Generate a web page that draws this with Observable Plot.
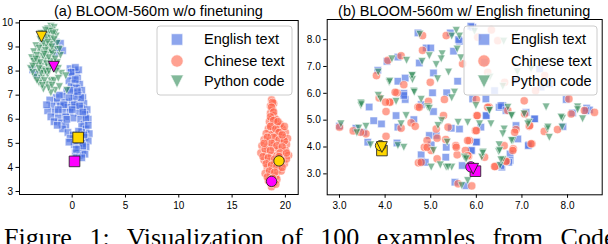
<!DOCTYPE html>
<html>
<head>
<meta charset="utf-8">
<script src="https://cdn.jsdelivr.net/npm/d3@7"></script>
<script src="https://cdn.jsdelivr.net/npm/@observablehq/plot@0.6"></script>
<style>
  html, body { margin: 0; padding: 0; background: #fff; }
  body { width: 608px; height: 244px; overflow: hidden; position: relative;
         font-family: "Liberation Sans", Arial, Helvetica, sans-serif; }
  .panel { position: absolute; top: 0; }
  #overlay { position: absolute; left: 0; top: 0; pointer-events: none; }
  .caption { position: absolute; left: 4px; top: 223px; white-space: nowrap;
             font-family: "Liberation Serif", "Times New Roman", serif; font-size: 26px;
             word-spacing: 11px; color: #000; }
</style>
</head>
<body>
<div id="pa" class="panel" style="left:0"></div>
<div id="pb" class="panel" style="left:304px"></div>
<svg id="overlay" width="608" height="244"></svg>
<div class="caption">Figure 1: Visualization of 100 examples from Code</div>
<script>
// ---------- data ----------
const seriesNames = ["English text", "Chinese text", "Python code"];
const panelTitles = ["(a) BLOOM-560m w/o finetuning", "(b) BLOOM-560m w/ English finetuning"];
const aXTicks = [0, 5, 10, 15, 20];
const aYTicks = [3, 4, 5, 6, 7, 8, 9, 10];
const bXTicks = [3, 4, 5, 6, 7, 8];
const bYTicks = [3, 4, 5, 6, 7, 8];

// panel (a): without finetuning
const aEnglish = [
  [-1.5,9.2],[-1.1,9.15],[-1.3,8.95],[-0.9,8.85],[-1.6,8.75],[-3.7,8.05],[-3.3,7.85],
  [-0.2,8.1],[0.1,8.0],[0.4,7.95],[0.0,7.8],[0.5,7.7],[-0.3,7.6],[0.2,7.5],[0.7,7.45],
  [-0.1,7.35],[0.4,7.3],[0.9,7.2],[-0.5,7.15],[0.1,7.1],[0.6,7.0],[-0.9,6.95],[1.0,6.9],
  [-1.5,6.9],[-2.1,6.8],[-1.4,6.75],[-0.7,6.7],[0.0,6.75],[0.5,6.7],[1.1,6.65],[-1.9,6.55],
  [-1.1,6.55],[-0.4,6.5],[0.3,6.5],[0.9,6.45],[1.4,6.4],[-2.3,6.35],[-1.6,6.3],[-0.9,6.3],
  [-0.2,6.3],[0.6,6.25],[1.2,6.2],[-2.0,6.1],[-1.3,6.05],[-0.6,6.1],[0.1,6.05],[0.8,6.0],
  [1.5,6.0],[-1.7,5.9],[-1.0,5.85],[1.1,5.8],[-0.6,5.75],[0.9,5.7],[1.3,5.6],[-0.9,5.6],
  [-0.4,5.45],[0.9,5.45],[1.6,5.4],[0.1,5.35],[-0.2,5.2],[1.2,5.25],[1.5,5.1],[0.9,5.0],
  [0.2,4.95],[1.3,4.85],[0.6,4.8],[1.0,4.65],[0.3,4.6],[0.7,4.5],[1.2,4.55],[0.4,4.4],
  [0.8,6.9],[0.2,6.95],[-0.3,6.9],[1.3,6.05],[-2.4,6.6],[-1.2,7.0],[0.6,8.05],[0.3,8.15],
  [-0.1,7.95],[0.3,7.65],[-0.2,7.2],[0.5,7.15],[-0.8,6.6],[0.2,6.6],[0.7,6.55],[-1.3,6.4],
  [0.0,6.4],[1.0,6.3],[-0.5,6.0],[-1.4,5.75],[1.5,5.75],[0.6,5.5],[1.1,5.35],[0.5,5.1],
  [1.0,4.9],[0.4,4.75],[0.9,4.4],[-0.3,5.05]
];
const aChinese = [
  [18.7,6.8],[18.9,6.65],[18.6,6.55],[18.8,6.4],[18.6,6.25],[18.9,6.15],[18.7,6.0],[18.5,5.9],
  [19.0,5.85],[18.7,5.75],[19.3,5.7],[19.7,5.6],[18.4,5.6],[18.9,5.55],[19.5,5.5],[20.0,5.45],
  [18.2,5.4],[18.7,5.35],[19.2,5.3],[19.8,5.25],[20.2,5.2],[18.0,5.15],[18.5,5.1],[19.0,5.05],
  [19.6,5.0],[20.1,4.95],[17.8,4.9],[18.3,4.85],[18.9,4.8],[19.4,4.75],[20.0,4.7],[17.7,4.6],
  [18.2,4.55],[18.7,4.5],[19.2,4.5],[19.8,4.45],[20.3,4.5],[18.0,4.3],[18.5,4.25],[19.0,4.2],
  [19.9,4.15],[20.1,4.35],[18.3,4.0],[18.8,3.95],[19.3,3.9],[18.1,3.75],[18.6,3.7],[19.1,3.65],
  [18.4,3.45],[18.9,3.35],[18.7,3.2],[19.2,3.5],[19.6,3.85],[19.5,5.8],[19.9,5.7],[19.1,6.0],
  [18.8,6.7],[18.7,6.5],[18.9,6.3],[18.6,6.1],[18.9,5.95],[18.6,5.7],[19.1,5.6],[19.4,5.45],
  [18.9,5.25],[19.4,5.15],[19.9,5.1],[18.3,5.25],[18.7,5.0],[19.2,4.9],[19.7,4.85],[18.1,4.75],
  [18.6,4.7],[19.5,4.6],[20.1,4.6],[17.9,4.45],[18.4,4.4],[19.0,4.35],[19.6,4.3],[18.2,4.15],
  [18.7,4.1],[19.2,4.05],[19.7,4.0],[18.5,3.85],[19.0,3.8],[18.3,3.6],[18.8,3.55],[19.1,3.3],
  [18.6,3.35],[19.4,4.45],[19.3,5.9],[19.7,5.35],[18.0,5.0]
];
const aPython = [
  [-2.0,9.85],[-1.7,9.8],[-2.3,9.75],[-1.9,9.7],[-2.6,9.55],[-2.2,9.5],[-1.5,9.45],[-3.0,9.3],
  [-2.5,9.25],[-1.9,9.2],[-1.4,9.15],[-3.4,9.05],[-2.8,9.0],[-2.2,8.95],[-1.6,8.9],[-3.6,8.8],
  [-3.0,8.75],[-2.4,8.7],[-1.8,8.65],[-1.1,8.65],[-3.8,8.55],[-3.2,8.5],[-2.6,8.45],[-2.0,8.4],
  [-1.4,8.35],[-3.5,8.25],[-2.9,8.2],[-2.3,8.15],[-3.9,8.1],[-3.2,7.95],[-2.6,7.9],[-1.0,7.9],
  [-3.5,7.75],[-2.9,7.7],[-2.0,7.6],[-1.7,7.6],[-0.6,7.8],[-3.1,7.5],[-2.4,7.45],[-2.7,7.25],
  [-1.6,7.2],[-0.5,7.2],[-1.2,7.35],[-2.0,7.1],[-2.8,8.05],[-2.4,9.0],[-1.8,8.1],[-3.3,8.3],
  [-2.0,8.8],[-1.6,9.6],
  [-2.1,9.65],[-1.8,9.55],[-2.4,9.4],[-2.0,9.35],[-1.7,9.3],[-2.7,9.15],[-2.1,9.1],[-3.1,8.95],
  [-2.5,8.85],[-1.9,8.75],[-3.3,8.65],[-2.7,8.6],[-2.2,8.55],[-1.6,8.5],[-3.6,8.4],[-3.0,8.35],
  [-2.4,8.3],[-2.0,8.2],[-3.7,7.95],[-2.9,7.9],[-2.3,7.85],[-3.3,7.6],[-2.6,7.6],[-2.2,7.3],
  [-1.3,7.7],[-2.5,8.0],[-3.1,8.1],[-2.2,8.0],[-1.3,8.1],[-1.2,8.9],[-2.9,9.55],[-2.5,9.7],
  [-3.4,8.5],[-1.9,7.4],[-2.8,7.4],[-3.7,8.2],[-1.5,8.0],[-2.3,9.2],[-1.9,9.0],[-2.6,8.7]
];
// highlighted examples: [example 1, example 2]
const aEnglishHi = [[0.56,5.24],[0.22,4.25]];
const aChineseHi = [[19.4,4.27],[18.7,3.42]];
const aPythonHi  = [[-2.88,9.43],[-1.72,8.18]];

// panel (b): with English finetuning
const bEnglish = [
  [4.72,8.25],[5.43,8.25],[5.63,7.94],[5.61,8.0],[5.92,8.46],[4.9,7.69],[5.0,7.69],[5.5,7.57],
  [4.28,7.35],[4.04,7.19],[4.75,7.13],[3.84,6.86],[5.06,6.76],[5.59,6.45],[4.28,6.45],[4.44,6.57],
  [4.41,6.0],[4.44,5.77],[5.04,6.02],[5.35,6.02],[4.79,5.58],[3.65,5.49],[5.88,8.5],[6.18,7.16],
  [7.42,6.23],[7.39,6.91],[5.92,5.79],[6.21,5.79],[6.58,5.54],[7.97,5.77],[8.42,5.45],[6.21,5.17],
  [6.1,4.74],[6.01,4.2],[5.9,3.87],[6.5,5.48],[7.09,5.29],[7.27,5.05],[6.87,4.8],[6.91,4.30],
  [6.74,3.74],[6.74,3.50],[6.56,3.25],[7.15,4.08],[8.11,5.27],[8.48,5.38],[5.77,2.56],[5.06,5.32],
  [4.24,5.17],[3.36,4.70],[3.53,4.55],[3.75,4.98],[3.92,4.86],[4.28,4.74],[4.63,5.02],[3.62,4.18],
  [4.26,4.15],[4.97,4.43],[5.01,4.08],[5.34,3.99],[4.79,3.71],[4.8,3.46],[5.33,3.62],[5.69,3.31],
  [5.53,2.69],[6.54,5.54],[6.65,5.36],[6.22,5.17],[5.63,4.67],[6.0,4.18],[5.89,3.87],[5.12,4.43],
  [4.88,3.43],[7.14,4.05],[6.71,3.43],[7.28,5.05],[6.54,3.31],[3.0,4.78],[5.45,4.7],[7.9,4.76],
  [6.4,6.1],[6.85,6.5],[7.6,6.35],[8.4,5.35],[4.41,5.92]
];
const bChinese = [
  [4.82,8.15],[5.34,8.15],[4.82,7.6],[4.35,7.4],[4.06,7.23],[3.81,6.66],[4.99,6.41],[4.41,6.32],
  [4.26,6.02],[4.11,5.67],[3.87,5.83],[5.3,5.77],[4.95,5.7],[4.72,5.49],[6.03,8.09],[6.33,8.36],
  [6.47,7.96],[6.25,6.78],[6.62,6.41],[7.5,6.66],[6.0,5.77],[6.28,5.49],[7.05,5.72],[8.03,5.79],
  [6.01,5.17],[5.98,4.61],[5.85,4.24],[5.76,3.87],[5.83,3.66],[6.69,5.36],[7.16,4.77],[6.87,4.65],
  [6.61,4.05],[6.81,3.93],[6.66,3.46],[6.42,3.28],[7.22,4.12],[7.49,4.58],[7.78,4.65],[8.59,5.29],
  [8.08,5.23],[8.37,5.36],[4.02,5.32],[4.75,5.48],[5.28,5.17],[3.0,4.74],[3.58,4.49],[4.35,4.7],
  [4.57,4.9],[4.66,4.77],[4.02,4.40],[4.92,4.24],[4.86,3.99],[5.14,4.33],[5.33,4.28],[5.55,4.05],
  [4.73,3.41],[5.14,3.56],[5.58,3.71],[5.6,2.63],[6.8,3.87],[6.84,4.55],[7.06,5.23],[7.17,4.80],
  [7.2,4.12],[6.65,3.47],[6.4,3.27],[6.18,3.62],[5.81,3.68],[6.0,4.61],[5.81,4.24],[6.02,5.17],
  [6.25,5.48],[4.79,3.43],[5.01,3.87],[4.92,3.99],[5.12,4.67],[5.38,4.74],[5.56,3.99],[4.22,6.04],
  [4.1,5.67],[4.01,5.67],[3.3,4.6],[3.46,4.55],[7.3,6.1],[5.7,7.1],[5.9,2.55]
];
const bPython = [
  [4.76,8.2],[5.46,8.13],[5.63,8.13],[4.97,7.4],[5.25,7.47],[5.23,7.28],[5.12,7.07],[5.58,7.65],
  [5.66,7.32],[4.15,7.28],[4.47,7.23],[4.81,7.19],[3.85,6.79],[5.15,6.54],[5.39,6.79],[4.6,6.66],
  [4.6,6.51],[4.09,6.41],[4.63,6.08],[4.24,5.7],[3.85,5.92],[5.52,6.04],[5.46,5.83],[4.79,5.77],
  [3.47,5.64],[4.93,5.49],[5.56,8.34],[5.96,8.31],[6.6,7.94],[6.58,6.26],[7.2,6.91],[7.53,5.49],
  [8.22,5.49],[5.99,5.54],[6.28,5.36],[6.32,4.86],[5.76,3.56],[6.15,3.81],[6.12,3.62],[6.78,5.17],
  [7.05,5.23],[7.16,4.92],[6.61,4.67],[6.58,4.49],[6.8,4.24],[6.5,4.08],[6.49,3.83],[6.58,3.53],
  [6.52,3.31],[7.56,4.67],[7.88,4.74],[7.6,4.36],[7.89,5.07],[8.22,5.39],[8.33,5.05],[5.81,2.75],
  [3.47,5.54],[4.46,5.17],[4.97,5.44],[5.24,4.98],[3.03,4.86],[3.42,4.70],[3.38,4.53],[3.58,4.77],
  [4.35,4.86],[3.68,4.08],[4.28,4.05],[4.41,3.99],[5.06,3.87],[5.01,3.25],[5.21,3.33],[5.34,3.25],
  [5.46,3.25],[5.74,3.62],[5.68,2.56],[5.38,3.25],[5.36,4.18],[5.16,4.8],[5.6,4.92],[5.81,4.92],
  [6.07,4.86],[6.29,5.36],[6.69,5.48],[6.77,5.17],[7.13,4.86],[6.77,4.24],[6.51,3.87],[6.54,3.52],
  [6.14,3.77],[5.78,3.56],[7.86,5.11],[7.57,4.74],[4.1,6.45],[4.59,6.66],[4.64,6.04],[3.9,5.79],
  [3.48,5.6],[6.9,6.8],[7.6,7.2],[6.3,6.6]
];
const bEnglishHi = [[3.93,3.87],[5.98,3.1]];
const bChineseHi = [[3.9,4.05],[5.88,3.26]];
const bPythonHi  = [[3.93,4.0],[5.93,3.19]];

// ---------- style ----------
const seriesColors = ["#4169E1", "#FF6347", "#2E8B57"];
const hiColors = ["#FFD700", "#FF00FF"];
const triDown = {
  draw(ctx, size) {
    const a = Math.sqrt(size / Math.PI);
    ctx.moveTo(0, a); ctx.lineTo(-a, -a); ctx.lineTo(a, -a); ctx.closePath();
  }
};
const symbols = ["square", "circle", triDown];
const radii = [4.2, 4.1, 3.9];
const hiRadii = [6.0, 5.2, 5.4];

function panel(series, his, xDomain, yDomain, xTicks, yTicks, mLeft, mTop, mBottom) {
  const marks = [];
  series.forEach((data, k) => {
    marks.push(Plot.dot(data, {
      x: d => d[0], y: d => d[1], symbol: symbols[k], r: radii[k],
      fill: seriesColors[k], fillOpacity: 0.6,
      stroke: "white", strokeOpacity: 0.6, strokeWidth: 0.9
    }));
  });
  his.forEach((data, k) => {
    marks.push(Plot.dot(data, {
      x: d => d[0], y: d => d[1], symbol: symbols[k], r: hiRadii[k],
      fill: (d, i) => hiColors[i], stroke: "#222", strokeOpacity: 0.85, strokeWidth: 1
    }));
  });
  marks.push(Plot.frame({stroke: "black", strokeWidth: 1}));
  return Plot.plot({
    width: 304, height: 216,
    marginLeft: mLeft, marginRight: 6.3, marginTop: mTop, marginBottom: mBottom,
    color: {type: "identity"},
    x: {domain: xDomain, ticks: xTicks, tickSize: 3.5, tickPadding: 4, label: null},
    y: {domain: yDomain, ticks: yTicks, tickSize: 3.5, tickPadding: 3, label: null},
    style: {fontFamily: "'Liberation Sans', Arial, Helvetica, sans-serif", fontSize: "10px", color: "#000", background: "transparent"},
    marks
  });
}

document.getElementById("pa").append(
  panel([aEnglish, aChinese, aPython], [aEnglishHi, aChineseHi, aPythonHi],
        [-4.94, 21.2], [2.875, 10.1], aXTicks, aYTicks, 19, 20, 22));
document.getElementById("pb").append(
  panel([bEnglish, bChinese, bPython], [bEnglishHi, bChineseHi, bPythonHi],
        [2.73, 8.76], [2.22, 8.75], bXTicks, bYTicks, 22.7, 19, 21.7));

// ---------- titles & legends ----------
const ov = d3.select("#overlay");
const font = "'Liberation Sans', Arial, Helvetica, sans-serif";
[[158.4, panelTitles[0]], [464.2, panelTitles[1]]].forEach(([cx, t]) => {
  ov.append("text").attr("x", cx).attr("y", 16).attr("text-anchor", "middle")
    .attr("font-family", font).attr("font-size", 14.5).attr("fill", "#000").text(t);
});

function legend(x0, y0, w, h, mx, tx) {
  const g = ov.append("g");
  g.append("rect").attr("x", x0).attr("y", y0).attr("width", w).attr("height", h)
    .attr("rx", 3).attr("fill", "white").attr("fill-opacity", 0.8)
    .attr("stroke", "#cccccc").attr("stroke-width", 1);
  const rowsY = [39.5, 61, 81.5];
  const sizes = [[d3.symbolSquare, 132], [d3.symbolCircle, 120], [triDown, Math.PI * 42]];
  seriesNames.forEach((name, k) => {
    g.append("path").attr("transform", `translate(${mx},${rowsY[k]})`)
      .attr("d", d3.symbol(sizes[k][0], sizes[k][1])())
      .attr("fill", seriesColors[k]).attr("fill-opacity", 0.6)
      .attr("stroke", "white").attr("stroke-opacity", 0.65).attr("stroke-width", 1);
    g.append("text").attr("x", tx).attr("y", rowsY[k] + 4.8)
      .attr("font-family", font).attr("font-size", 14.5).attr("fill", "#000").text(name);
  });
}
legend(157, 26, 135, 69, 177, 204);
legend(464, 26, 133, 69, 484, 511);
</script>
</body>
</html>
